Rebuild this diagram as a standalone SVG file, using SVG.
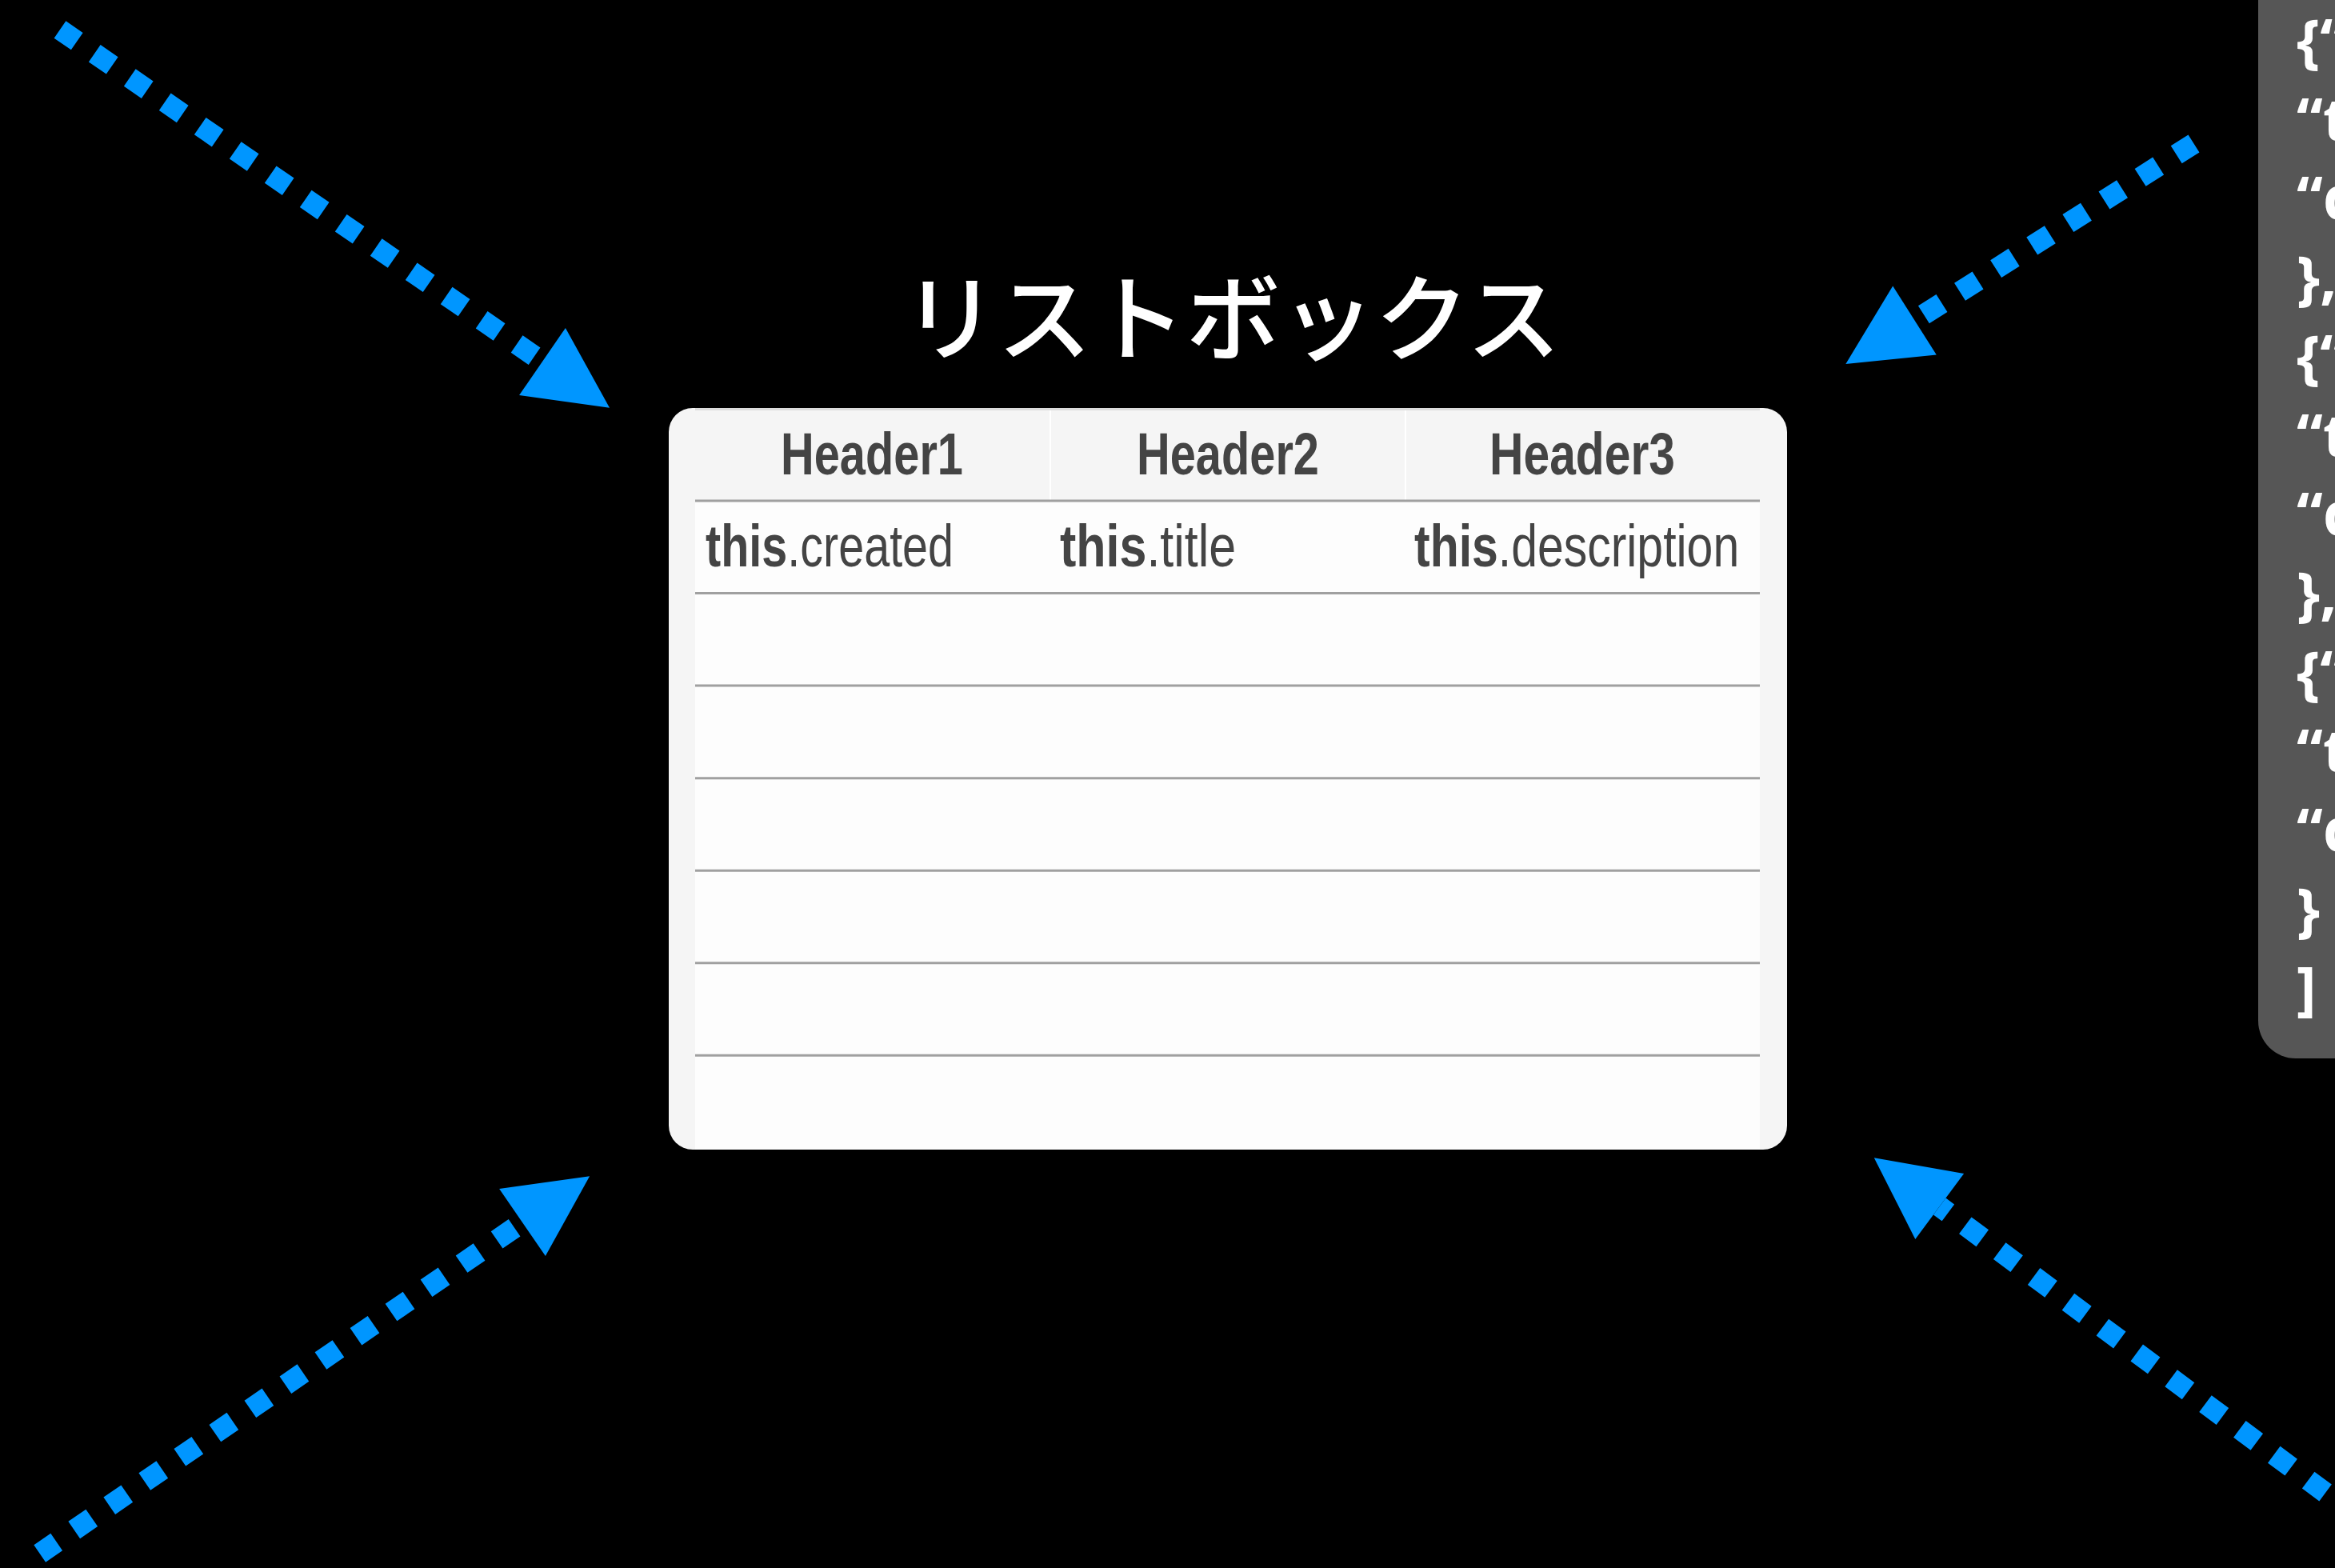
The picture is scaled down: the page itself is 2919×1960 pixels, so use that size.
<svg xmlns="http://www.w3.org/2000/svg" width="2919" height="1960" viewBox="0 0 2919 1960">
  <style>
    .hdr { font-family: "Liberation Sans", Arial, sans-serif; font-weight: bold; font-size: 74px; fill: #444444; text-anchor: middle; }
    .cell { font-family: "Liberation Sans", Arial, sans-serif; font-size: 75px; fill: #444444; }
    .cell .b { font-weight: bold; }
    .title { font-family: "Noto Sans CJK JP", "Noto Sans", sans-serif; font-weight: 500; font-size: 118px; fill: #ffffff; text-anchor: middle; }
    .json { font-family: "Open Sans", "DejaVu Sans", sans-serif; font-weight: bold; font-size: 74px; fill: #ffffff; }
    .rowline { stroke: #a0a0a0; stroke-width: 3; }
    .coldiv { stroke: #ffffff; stroke-width: 2; }
    .conn { fill: none; stroke: #0096ff; stroke-width: 26; stroke-dasharray: 26.7 26.7; marker-start: url(#head); }
  </style>
  <defs>
    <marker id="head" markerUnits="userSpaceOnUse" markerWidth="104" markerHeight="104" refX="0" refY="51" orient="auto-start-reverse" overflow="visible">
      <path d="M0,0 L102,51 L0,102 Z" fill="#0096ff"/>
    </marker>
  </defs>
  <rect width="2919" height="1960" fill="#000000"/>

  <g id="json-panel">
    <rect x="2823" y="-60" width="200" height="1383" rx="47" fill="#565656"/>
    <text class="json" x="2871" y="77">{“c</text>
    <text class="json" x="2871" y="175.7">“t</text>
    <text class="json" x="2871" y="274.4">“d</text>
    <text class="json" x="2871" y="373.1">},</text>
    <text class="json" x="2871" y="471.8">{“c</text>
    <text class="json" x="2871" y="570.5">“t</text>
    <text class="json" x="2871" y="669.2">“d</text>
    <text class="json" x="2871" y="767.9">},</text>
    <text class="json" x="2871" y="866.6">{“c</text>
    <text class="json" x="2871" y="965.3">“t</text>
    <text class="json" x="2871" y="1064">“d</text>
    <text class="json" x="2871" y="1162.7">}</text>
    <text class="json" x="2871" y="1261.4">]</text>
  </g>

  <g id="listbox-title">
    <text class="title" x="1540" y="442">リストボックス</text>
  </g>

  <g id="listbox">
    <rect x="836" y="510" width="1398" height="927" rx="30" fill="#f5f5f5"/>
    <rect x="869" y="626" width="1331" height="811" fill="#fdfdfd"/>
    <line x1="869" y1="511.5" x2="2200" y2="511.5" stroke="#dcdcdc" stroke-width="3"/>
    <line class="coldiv" x1="1313" y1="513" x2="1313" y2="625"/>
    <line class="coldiv" x1="1757" y1="513" x2="1757" y2="625"/>
    <text class="hdr" x="1090" y="593" textLength="228" lengthAdjust="spacingAndGlyphs">Header1</text>
    <text class="hdr" x="1535" y="593" textLength="228" lengthAdjust="spacingAndGlyphs">Header2</text>
    <text class="hdr" x="1978" y="593" textLength="232" lengthAdjust="spacingAndGlyphs">Header3</text>
    <line class="rowline" x1="869" y1="626" x2="2200" y2="626"/>
    <line class="rowline" x1="869" y1="741.6" x2="2200" y2="741.6"/>
    <line class="rowline" x1="869" y1="857.1" x2="2200" y2="857.1"/>
    <line class="rowline" x1="869" y1="972.7" x2="2200" y2="972.7"/>
    <line class="rowline" x1="869" y1="1088.2" x2="2200" y2="1088.2"/>
    <line class="rowline" x1="869" y1="1203.8" x2="2200" y2="1203.8"/>
    <line class="rowline" x1="869" y1="1319.3" x2="2200" y2="1319.3"/>
    <text class="cell" transform="translate(882,708) scale(0.767,1)"><tspan class="b">this</tspan>.created</text>
    <text class="cell" transform="translate(1325,708) scale(0.813,1)"><tspan class="b">this</tspan>.title</text>
    <text class="cell" transform="translate(1768,708) scale(0.786,1)"><tspan class="b">this</tspan>.description</text>
  </g>

  <g id="connectors">
    <path class="conn" d="M678,452 L75,37" stroke-dashoffset="41.4"/>
    <path class="conn" d="M2393.5,400.5 L2742.5,179.5" stroke-dashoffset="39.9"/>
    <path class="conn" d="M653,1528 L49.7,1942" stroke-dashoffset="41.4"/>
    <path class="conn" d="M2424.7,1508 L2938.6,1889.4" stroke-dashoffset="13.4"/>
  </g>
</svg>
